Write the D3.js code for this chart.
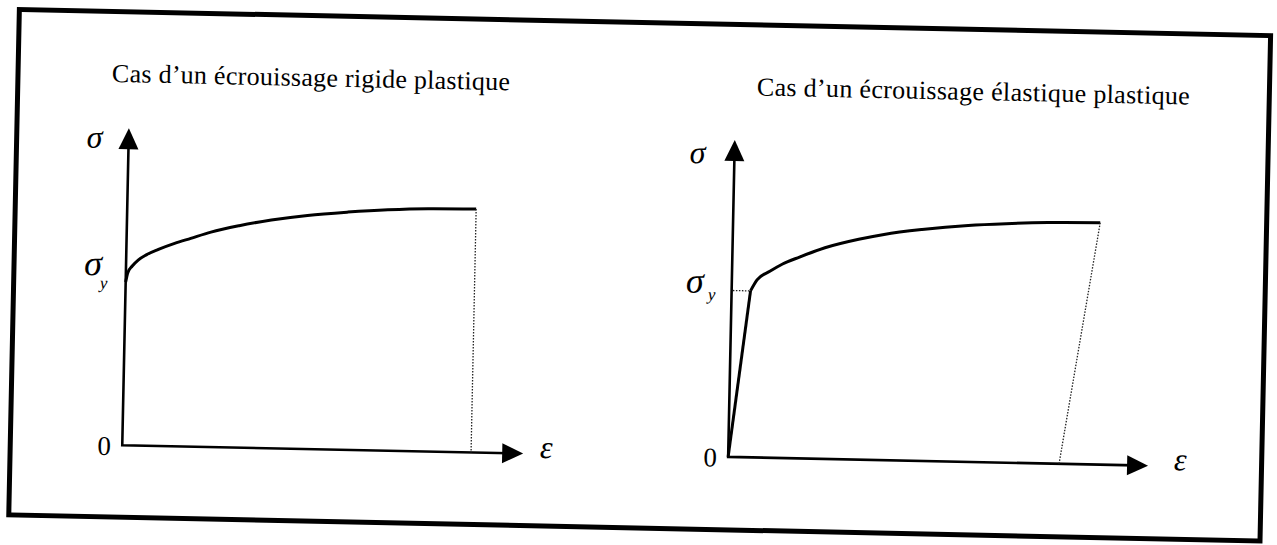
<!DOCTYPE html>
<html><head><meta charset="utf-8">
<script src="https://cdn.jsdelivr.net/npm/d3@7"></script>
<style>html,body{margin:0;padding:0;background:#fff;overflow:hidden}</style>
</head><body><svg id="chart" width="1277" height="545"></svg>
<script>
// ---- data ----
const panelTitles = ["Cas d\u2019un \u00e9crouissage rigide plastique", "Cas d\u2019un \u00e9crouissage \u00e9lastique plastique"];
const axisDomain = [0, 10];
// left: rigid plastic hardening
const rigidStrain = [0, 0.05, 0.15, 0.3, 0.5, 0.8, 1.2, 1.6, 2.1, 2.8, 3.6, 4.5, 5.5, 6.5, 7.5, 8.7];
const rigidStress = [5.15, 5.45, 5.65, 5.85, 6.02, 6.2, 6.4, 6.57, 6.78, 7.0, 7.2, 7.37, 7.5, 7.6, 7.66, 7.68];
const rigidDropStrain = [8.7, 8.7];
const rigidDropStress = [7.68, 0];
// right: elastic plastic hardening
const elasticStrain = [0, 0.45];
const elasticStress = [0, 5.25];
const hardeningStrain = [0.45, 0.6, 0.9, 1.2, 1.6, 2.2, 3.0, 3.6, 4.5, 5.6, 6.5, 7.5, 8.74];
const hardeningStress = [5.25, 5.6, 5.88, 6.12, 6.35, 6.66, 6.95, 7.12, 7.3, 7.46, 7.54, 7.6, 7.63];
const unloadStrain = [8.74, 7.88];
const unloadStress = [7.63, 0];
const yieldGuideStrain = [0.03, 0.42];
const yieldGuideStress = [5.25, 5.25];
const yieldStress = [5.15, 5.25];
const labelSigma = "\u03c3", labelSub = "y", labelEps = "\u03b5", labelZero = "0";

// ---- layout ----
const svg = d3.select("#chart");
const root = svg.append("g").attr("transform", "rotate(1.2,640,272)");
const font = "'Liberation Serif','Times New Roman',serif";

root.append("rect").attr("x", 14).attr("y", 22.5).attr("width", 1251.5).attr("height", 505.5)
  .attr("fill", "none").attr("stroke", "#000").attr("stroke-width", 5);

const panels = [
  { xr: [126, 527], yr: [456, 139], titleX: 108, titleLen: 398, sigmaDx: -34, sigmaDy: 20,
    yDx: -33, yDy: -6, subDx: -22, subDy: 7, epsDx: 23 },
  { xr: [732, 1152], yr: [455, 138], titleX: 753, titleLen: 433, sigmaDx: -37, sigmaDy: 24,
    yDx: -37, yDy: 3, subDx: -20, subDy: 10, epsDx: 32 }
];

const zip = (a, b) => a.map((v, i) => [v, b[i]]);

panels.forEach((p, i) => {
  const x = d3.scaleLinear().domain(axisDomain).range(p.xr);
  const y = d3.scaleLinear().domain(axisDomain).range(p.yr);
  const g = root.append("g");
  const line = d3.line().x(d => x(d[0])).y(d => y(d[1]));

  g.append("text").attr("x", p.titleX).attr("y", 93)
    .attr("font-family", font).attr("font-size", 26)
    .attr("textLength", p.titleLen).attr("lengthAdjust", "spacing")
    .text(panelTitles[i]);

  // axes
  const x0 = x(0), y0 = y(0), xt = x(axisDomain[1]), yt = y(axisDomain[1]);
  g.append("path").attr("d", line([[0, axisDomain[1] - 0.3], [0, 0], [axisDomain[1] - 0.3, 0]]))
    .attr("fill", "none").attr("stroke", "#000").attr("stroke-width", 2.6);
  g.append("path").attr("d", `M${x0},${yt} L${x0 - 10},${yt + 21} L${x0 + 10},${yt + 21} Z`).attr("fill", "#000");
  g.append("path").attr("d", `M${xt},${y0} L${xt - 21},${y0 - 10} L${xt - 21},${y0 + 10} Z`).attr("fill", "#000");

  // labels
  g.append("text").attr("x", x0 + p.sigmaDx).attr("y", yt + p.sigmaDy).attr("text-anchor", "middle")
    .attr("font-family", font).attr("font-style", "italic").attr("font-size", 32).text(labelSigma);
  const ys = y(yieldStress[i]);
  g.append("text").attr("x", x0 + p.yDx).attr("y", ys + p.yDy).attr("text-anchor", "middle")
    .attr("font-family", font).attr("font-style", "italic").attr("font-size", 36).text(labelSigma);
  g.append("text").attr("x", x0 + p.subDx).attr("y", ys + p.subDy).attr("text-anchor", "middle")
    .attr("font-family", font).attr("font-style", "italic").attr("font-size", 17).text(labelSub);
  g.append("text").attr("x", xt + p.epsDx).attr("y", y0 + 4).attr("text-anchor", "middle")
    .attr("font-family", font).attr("font-style", "italic").attr("font-size", 32).text(labelEps);
  g.append("text").attr("x", x0 - 18).attr("y", y0 + 10).attr("text-anchor", "middle")
    .attr("font-family", font).attr("font-size", 27).text(labelZero);

  const solid = (d) => g.append("path").attr("d", line(d)).attr("fill", "none")
    .attr("stroke", "#000").attr("stroke-width", 3).attr("stroke-linejoin", "round");
  const dotted = (d) => g.append("path").attr("d", d3.line().x(v => x(v[0])).y(v => y(v[1]))(d))
    .attr("fill", "none").attr("stroke", "#222").attr("stroke-width", 1.3).attr("stroke-dasharray", "1.5,1.5");

  if (i === 0) {
    g.append("path").attr("d", line.curve(d3.curveMonotoneX)(zip(rigidStrain, rigidStress)))
      .attr("fill", "none").attr("stroke", "#000").attr("stroke-width", 3);
    line.curve(d3.curveLinear);
    dotted(zip(rigidDropStrain, rigidDropStress));
  } else {
    solid(zip(elasticStrain, elasticStress));
    g.append("path").attr("d", line.curve(d3.curveMonotoneX)(zip(hardeningStrain, hardeningStress)))
      .attr("fill", "none").attr("stroke", "#000").attr("stroke-width", 3);
    line.curve(d3.curveLinear);
    dotted(zip(unloadStrain, unloadStress));
    dotted(zip(yieldGuideStrain, yieldGuideStress));
  }
});
</script></body></html>
